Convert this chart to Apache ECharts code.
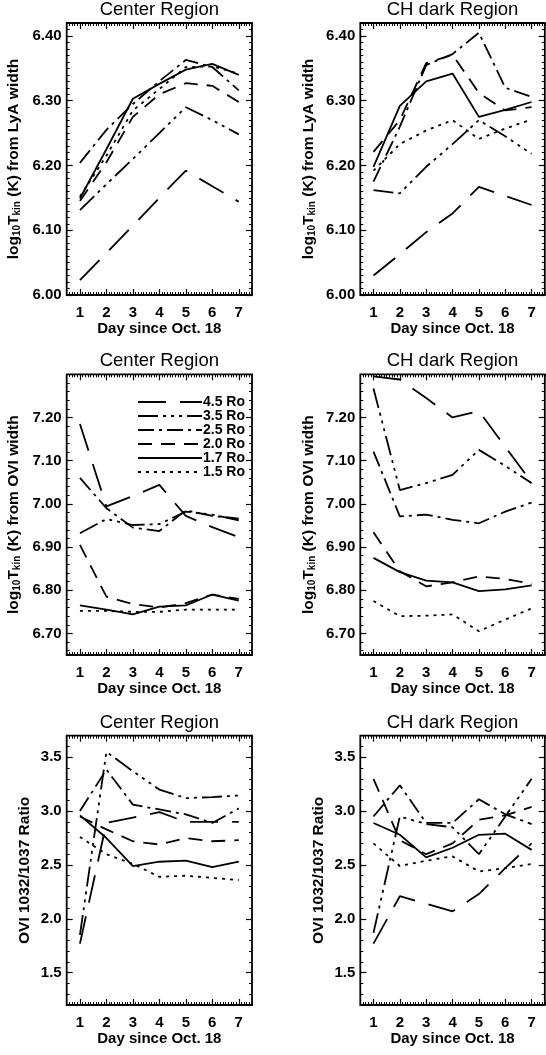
<!DOCTYPE html>
<html><head><meta charset="utf-8">
<script src="https://cdn.jsdelivr.net/npm/echarts@6/dist/echarts.min.js"></script>
<style>html,body{margin:0;padding:0;background:#fff}#c{width:546px;height:1055px}</style>
</head><body><div id="c"></div>
<script>
// ---------------- DATA ----------------
const days = [1, 2, 3, 4, 5, 6, 7];
const seriesNames = ['4.5 Ro', '3.5 Ro', '2.5 Ro', '2.0 Ro', '1.7 Ro', '1.5 Ro'];
const panelTitles = ['Center Region', 'CH dark Region'];
const xTicks = [1, 2, 3, 4, 5, 6, 7];
const lyaTicks = [6.00, 6.10, 6.20, 6.30, 6.40];
const oviTicks = [6.70, 6.80, 6.90, 7.00, 7.10, 7.20];
const ratioTicks = [1.5, 2.0, 2.5, 3.0, 3.5];
const xAxisTitle = 'Day since Oct. 18';

// rows follow seriesNames order: 4.5, 3.5, 2.5, 2.0, 1.7, 1.5 Ro
const lyaCenter = [
  [6.023, 6.065, 6.107, 6.150, 6.192, 6.168, 6.144],
  [6.131, 6.171, 6.210, 6.250, 6.290, 6.270, 6.248],
  [6.204, 6.255, 6.295, 6.330, 6.363, 6.352, 6.316],
  [6.145, 6.205, 6.275, 6.310, 6.327, 6.323, 6.298],
  [6.149, 6.225, 6.303, 6.326, 6.348, 6.357, 6.340],
  [6.152, 6.215, 6.285, 6.318, 6.352, 6.353, 6.342]
];
const lyaCH = [
  [6.030, 6.063, 6.097, 6.126, 6.167, 6.153, 6.139],
  [6.162, 6.157, 6.198, 6.233, 6.270, 6.245, 6.218],
  [6.175, 6.260, 6.355, 6.372, 6.405, 6.320, 6.306],
  [6.221, 6.270, 6.358, 6.371, 6.312, 6.285, 6.290],
  [6.198, 6.292, 6.330, 6.342, 6.275, 6.286, 6.298],
  [6.192, 6.233, 6.254, 6.270, 6.241, 6.257, 6.271]
];
const oviCenter = [
  [7.185, 6.994, 7.018, 7.044, 6.972, 6.946, 6.923],
  [6.932, 6.965, 6.951, 6.953, 6.982, 6.975, 6.962],
  [7.060, 6.990, 6.945, 6.937, 6.985, 6.972, 6.966],
  [6.905, 6.785, 6.768, 6.760, 6.770, 6.790, 6.780],
  [6.765, 6.755, 6.744, 6.762, 6.765, 6.790, 6.776],
  [6.752, 6.752, 6.750, 6.750, 6.755, 6.755, 6.755]
];
const oviCH = [
  [7.295, 7.288, 7.245, 7.200, 7.215, 7.132, 7.050],
  [7.267, 7.032, 7.048, 7.067, 7.125, 7.088, 7.048],
  [7.121, 6.971, 6.975, 6.963, 6.955, 6.982, 7.003],
  [6.934, 6.844, 6.809, 6.818, 6.832, 6.826, 6.815],
  [6.875, 6.842, 6.822, 6.818, 6.798, 6.802, 6.811],
  [6.775, 6.740, 6.741, 6.744, 6.705, 6.732, 6.758]
];
const ratioCenter = [
  [1.77, 2.89, 2.94, 2.99, 2.90, 2.90, 2.90],
  [1.85, 3.55, 3.37, 3.20, 3.12, 3.13, 3.145],
  [3.00, 3.386, 3.06, 3.015, 2.97, 2.89, 3.025],
  [2.95, 2.83, 2.72, 2.69, 2.75, 2.72, 2.73],
  [2.96, 2.75, 2.49, 2.53, 2.54, 2.48, 2.53],
  [2.76, 2.60, 2.51, 2.39, 2.40, 2.38, 2.36]
];
const ratioCH = [
  [1.77, 2.21, 2.14, 2.07, 2.23, 2.47, 2.70],
  [1.87, 2.95, 2.88, 2.85, 2.60, 2.95, 3.30],
  [2.95, 3.24, 2.89, 2.89, 3.11, 2.97, 2.88],
  [3.30, 2.73, 2.60, 2.70, 2.92, 2.96, 3.04],
  [2.89, 2.78, 2.57, 2.66, 2.78, 2.79, 2.64],
  [2.70, 2.49, 2.54, 2.58, 2.44, 2.47, 2.51]
];

// ---------------- STYLE / LAYOUT ----------------
const FONT = '"Liberation Sans", Arial, Helvetica, sans-serif';
const dashes = [[28, 14], [20, 5, 3, 5, 3, 5, 3, 5], [16, 5, 3, 5], [14, 9], 'solid', [3, 5]];
const gridRects = [
  {left: 66.7, top: 23, width: 185.3, height: 272},
  {left: 360.3, top: 23, width: 184.5, height: 272},
  {left: 66.7, top: 374.3, width: 185.3, height: 280.7},
  {left: 360.3, top: 374.3, width: 184.5, height: 280.7},
  {left: 66.7, top: 735.7, width: 185.3, height: 269.3},
  {left: 360.3, top: 735.7, width: 184.5, height: 269.3}
];
const yNames = [
  'log{s|10}T{s|kin} (K) from LyA width',
  'log{s|10}T{s|kin} (K) from OVI width',
  'OVI 1032/1037 Ratio'
];
const panels = [
  {data: lyaCenter, yr: [6.00, 6.42], ticks: lyaTicks, minor: 0.01, dec: 2, nameGap: 44},
  {data: lyaCH, yr: [6.00, 6.42], ticks: lyaTicks, minor: 0.01, dec: 2, nameGap: 43},
  {data: oviCenter, yr: [6.65, 7.30], ticks: oviTicks, minor: 0.02, dec: 2, nameGap: 44},
  {data: oviCH, yr: [6.65, 7.30], ticks: oviTicks, minor: 0.02, dec: 2, nameGap: 43},
  {data: ratioCenter, yr: [1.2, 3.7], ticks: ratioTicks, minor: 0.1, dec: 1, nameGap: 34},
  {data: ratioCH, yr: [1.2, 3.7], ticks: ratioTicks, minor: 0.1, dec: 1, nameGap: 34}
];
const titleY = [10, 361, 723];

function steps(a, b, s) {
  const out = [];
  const k0 = Math.ceil(a / s - 1e-6);
  for (let k = k0; k * s <= b + 1e-9; k++) out.push(+(k * s).toFixed(4));
  return out;
}

const xAxes = [], yAxes = [], grids = [], series = [], graphics = [];
const xMinorVals = steps(0.5, 7.5, 0.1);
const tickFont = {color: '#000', fontSize: 15, fontWeight: 'bold', fontFamily: FONT};
panels.forEach((p, gi) => {
  const r = gridRects[gi];
  grids.push(Object.assign({show: true, borderColor: '#000', borderWidth: 1.8, backgroundColor: '#fff', containLabel: false}, r));
  const row = Math.floor(gi / 2);
  const baseX = {type: 'value', gridIndex: gi, min: 0.5, max: 7.5, splitLine: {show: false},
    axisLine: {show: false, onZero: false}};
  xAxes.push(Object.assign({}, baseX, {position: 'bottom',
    axisTick: {show: true, inside: true, length: 6, customValues: xTicks, lineStyle: {color: '#000', width: 1.2}},
    axisLabel: Object.assign({show: true, customValues: xTicks, margin: 10}, tickFont),
    name: xAxisTitle, nameLocation: 'middle', nameGap: 26,
    nameTextStyle: {color: '#000', fontSize: 15, fontWeight: 'bold', fontFamily: FONT}}));
  xAxes.push(Object.assign({}, baseX, {position: 'bottom',
    axisTick: {show: true, inside: true, length: 3, customValues: xMinorVals, lineStyle: {color: '#000', width: 1}},
    axisLabel: {show: false}}));
  xAxes.push(Object.assign({}, baseX, {position: 'top',
    axisTick: {show: true, inside: true, length: 6, customValues: xTicks, lineStyle: {color: '#000', width: 1.2}},
    axisLabel: {show: false}}));
  xAxes.push(Object.assign({}, baseX, {position: 'top',
    axisTick: {show: true, inside: true, length: 3, customValues: xMinorVals, lineStyle: {color: '#000', width: 1}},
    axisLabel: {show: false}}));

  const yMinorVals = steps(p.yr[0], p.yr[1], p.minor);
  const baseY = {type: 'value', gridIndex: gi, min: p.yr[0], max: p.yr[1], splitLine: {show: false},
    axisLine: {show: false, onZero: false}};
  yAxes.push(Object.assign({}, baseY, {position: 'left',
    axisTick: {show: true, inside: true, length: 6, customValues: p.ticks, lineStyle: {color: '#000', width: 1.2}},
    axisLabel: Object.assign({show: true, customValues: p.ticks, margin: 5,
      formatter: v => Number(v).toFixed(p.dec)}, tickFont),
    name: yNames[row], nameLocation: 'middle', nameRotate: 90, nameGap: p.nameGap,
    nameTextStyle: {color: '#000', fontSize: 15.5, fontWeight: 'bold', fontFamily: FONT,
      rich: {s: {fontSize: 10, fontWeight: 'bold', fontFamily: FONT, verticalAlign: 'bottom', color: '#000', padding: [7, 0, 0, 0]}}}}));
  yAxes.push(Object.assign({}, baseY, {position: 'left',
    axisTick: {show: true, inside: true, length: 3, customValues: yMinorVals, lineStyle: {color: '#000', width: 1}},
    axisLabel: {show: false}}));
  yAxes.push(Object.assign({}, baseY, {position: 'right',
    axisTick: {show: true, inside: true, length: 6, customValues: p.ticks, lineStyle: {color: '#000', width: 1.2}},
    axisLabel: {show: false}}));
  yAxes.push(Object.assign({}, baseY, {position: 'right',
    axisTick: {show: true, inside: true, length: 3, customValues: yMinorVals, lineStyle: {color: '#000', width: 1}},
    axisLabel: {show: false}}));

  p.data.forEach((vals, si) => {
    series.push({
      type: 'line', name: seriesNames[si], xAxisIndex: gi * 4, yAxisIndex: gi * 4,
      data: days.map((d, k) => [d, vals[k]]),
      symbol: 'none', showSymbol: false, silent: true, animation: false, clip: true,
      itemStyle: {color: '#000', opacity: 0},
      lineStyle: {color: '#000', width: 1.8, type: dashes[si]}
    });
  });

  graphics.push({type: 'text', x: r.left + r.width / 2, y: titleY[row],
    style: {text: panelTitles[gi % 2], align: 'center', verticalAlign: 'middle',
      font: '18.5px ' + FONT, fill: '#000'}});
});

const chart = echarts.init(document.getElementById('c'), null, {renderer: 'canvas'});
chart.setOption({
  animation: false,
  backgroundColor: '#fff',
  grid: grids, xAxis: xAxes, yAxis: yAxes, series: series,
  legend: {
    data: seriesNames, orient: 'vertical', left: 132, top: 390,
    itemWidth: 64, itemHeight: 11.7, itemGap: 0, selectedMode: false,
    itemStyle: {opacity: 0, color: 'rgba(0,0,0,0)', borderWidth: 0},
    textStyle: {color: '#000', fontSize: 14, fontWeight: 'bold', fontFamily: FONT, lineHeight: 11.7, padding: [0, 0, 0, -4]}
  },
  graphic: graphics
});
</script></body></html>
